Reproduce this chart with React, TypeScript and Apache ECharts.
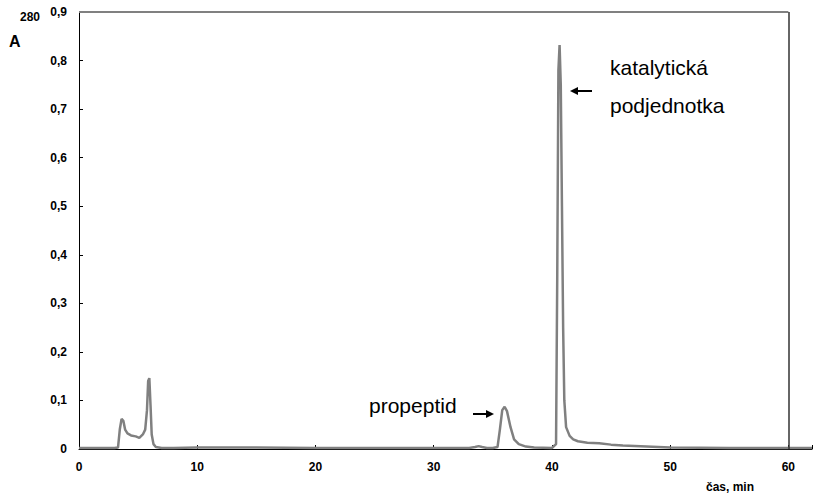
import React, { useEffect, useRef } from "react";
import * as echarts from "echarts";

const timeMin = [0, 3.0, 3.3, 3.45, 3.6, 3.75, 3.9, 4.1, 4.4, 4.8, 5.1, 5.4, 5.6, 5.75, 5.85, 5.95, 6.05, 6.15, 6.3, 6.5, 7, 8, 10, 15, 20, 25, 30, 33, 33.5, 33.8, 34.1, 34.5, 35, 35.4, 35.6, 35.8, 36.0, 36.2, 36.5, 36.8, 37.2, 37.8, 38.5, 40, 40.35, 40.45, 40.55, 40.65, 40.75, 40.85, 40.95, 41.05, 41.2, 41.5, 41.8, 42.2, 43, 44, 45, 46, 48, 50, 55, 60, 62];
const absorbance = [0.002, 0.002, 0.003, 0.04, 0.062, 0.058, 0.04, 0.032, 0.028, 0.026, 0.023, 0.03, 0.04, 0.08, 0.14, 0.146, 0.09, 0.03, 0.01, 0.004, 0.002, 0.002, 0.003, 0.003, 0.002, 0.002, 0.002, 0.002, 0.004, 0.006, 0.004, 0.002, 0.002, 0.004, 0.04, 0.08, 0.087, 0.078, 0.045, 0.02, 0.01, 0.005, 0.003, 0.002, 0.01, 0.35, 0.78, 0.832, 0.75, 0.5, 0.25, 0.1, 0.045, 0.027, 0.02, 0.016, 0.013, 0.012, 0.009, 0.007, 0.005, 0.003, 0.002, 0.002, 0.002];
const xTicks = [0, 10, 20, 30, 40, 50, 60];
const yTicks = [0, 0.1, 0.2, 0.3, 0.4, 0.5, 0.6, 0.7, 0.8, 0.9];

const FONT = "Liberation Sans, Arial, sans-serif";

export default function App() {
  const ref = useRef<HTMLDivElement>(null);
  useEffect(() => {
    document.body.style.margin = "0";
    if (!ref.current) return;
    const chart = echarts.init(ref.current, null, { renderer: "svg" });
    const data = timeMin.map((t, i) => [t, absorbance[i]]);
    chart.setOption({
      animation: false,
      backgroundColor: "#ffffff",
      grid: { left: 79, top: 12, right: 0, bottom: 45, containLabel: false },
      xAxis: {
        type: "value",
        min: 0,
        max: 62,
        interval: 10,
        axisLine: { show: true, lineStyle: { color: "#000", width: 1 } },
        axisTick: { show: true, inside: true, length: 4, lineStyle: { color: "#000" } },
        splitLine: { show: false },
        axisLabel: {
          color: "#000",
          fontFamily: FONT,
          fontWeight: "bold",
          fontSize: 12,
          margin: 12,
          formatter: (v: number) => (xTicks.includes(v) ? String(v) : ""),
        },
      },
      yAxis: {
        type: "value",
        min: 0,
        max: 0.9,
        interval: 0.1,
        axisLine: { show: true, lineStyle: { color: "#000", width: 1 } },
        axisTick: { show: true, inside: true, length: 4, lineStyle: { color: "#000" } },
        splitLine: { show: false },
        axisLabel: {
          color: "#000",
          fontFamily: FONT,
          fontWeight: "bold",
          fontSize: 12,
          margin: 12,
          formatter: (v: number) => {
            const t = yTicks.find((y) => Math.abs(y - v) < 1e-6);
            if (t === undefined) return "";
            return t === 0 ? "0" : t.toFixed(1).replace(".", ",");
          },
        },
      },
      series: [
        {
          type: "line",
          data,
          showSymbol: false,
          symbol: "none",
          clip: false,
          lineStyle: { color: "#808080", width: 2.5 },
          markLine: {
            silent: true,
            symbol: "none",
            label: { show: false },
            data: [
              [
                { coord: [0, 0.9], lineStyle: { color: "#808080", width: 2, type: "solid" } },
                { coord: [60, 0.9] },
              ],
              [
                { coord: [60, 0], lineStyle: { color: "#333333", width: 1.5, type: "solid" } },
                { coord: [60, 0.9] },
              ],
            ],
          },
        },
      ],
      graphic: [
        { type: "text", left: 20, top: 11, style: { text: "280", font: `bold 12px ${FONT}`, fill: "#000" } },
        { type: "text", left: 9, top: 33, style: { text: "A", font: `bold 16px ${FONT}`, fill: "#000" } },
        { type: "text", left: 706, top: 481, style: { text: "čas, min", font: `bold 12px ${FONT}`, fill: "#000" } },
        { type: "text", left: 610, top: 57, style: { text: "katalytická", font: `21px ${FONT}`, fill: "#000" } },
        { type: "text", left: 610, top: 95, style: { text: "podjednotka", font: `21px ${FONT}`, fill: "#000" } },
        { type: "text", left: 369, top: 395, style: { text: "propeptid", font: `21px ${FONT}`, fill: "#000" } },
        { type: "line", shape: { x1: 576, y1: 91, x2: 592, y2: 91 }, style: { stroke: "#000", lineWidth: 2 } },
        { type: "polygon", shape: { points: [[570, 91], [578, 87], [578, 95]] }, style: { fill: "#000" } },
        { type: "line", shape: { x1: 473, y1: 414, x2: 488, y2: 414 }, style: { stroke: "#000", lineWidth: 2 } },
        { type: "polygon", shape: { points: [[494, 414], [486, 410], [486, 418]] }, style: { fill: "#000" } },
      ],
    });
    return () => chart.dispose();
  }, []);
  return <div ref={ref} style={{ width: 815, height: 494 }} />;
}
